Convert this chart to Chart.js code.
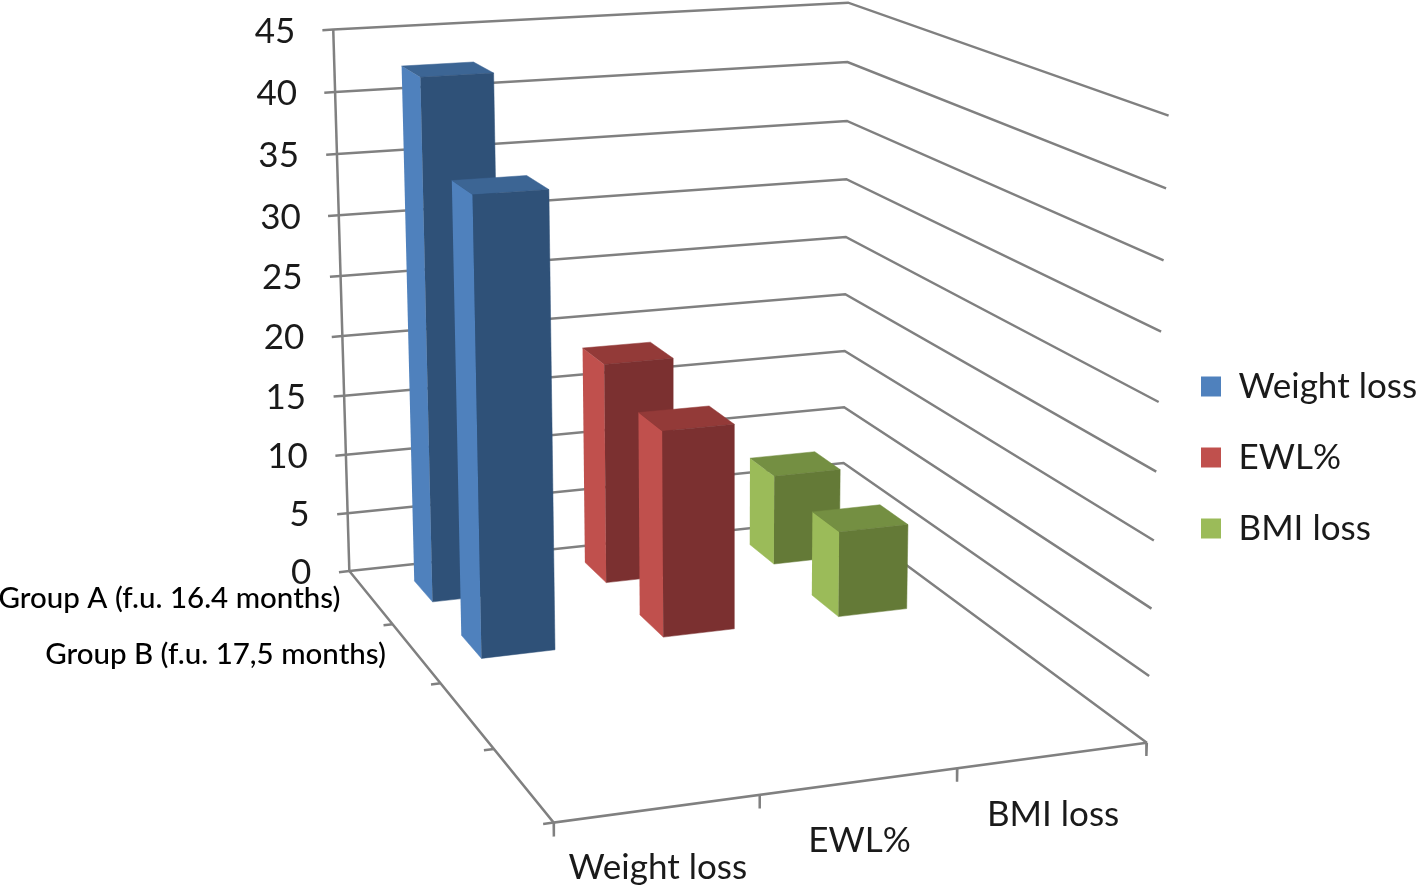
<!DOCTYPE html>
<html>
<head>
<meta charset="utf-8">
<title>Weight loss by group</title>
<script src="https://cdn.jsdelivr.net/npm/chart.js@4"></script>
<style>
    html, body { margin: 0; padding: 0; background: #fff; }
    canvas { display: block; }
</style>
</head>
<body>
<canvas id="lossChart" width="1418" height="891"></canvas>
<script>
const categories = ['Weight loss', 'EWL%', 'BMI loss'];
const groups = ['Group A (f.u. 16.4 months)', 'Group B (f.u. 17,5 months)'];
const groupA = [42.5, 18.4, 7.6];
const groupB = [36, 16.6, 7];
const valueTicks = [0, 5, 10, 15, 20, 25, 30, 35, 40, 45];

// Excel style box: 3 columns wide, 4 rows deep, 45 high
const depthRows = 4;
const maxValue = 45;

const seriesColors = [
    { side: '#4F81BD', top: '#3C6594', front: '#2F5178' },
    { side: '#C0504D', top: '#933A38', front: '#7B3030' },
    { side: '#9BBB59', top: '#748F42', front: '#647A37' }
];
const gridColor = '#808080';
const textColor = '#1a1a1a';
const fontFamily = 'Lato, "Open Sans", sans-serif';

// Camera calibration: box position -> canvas pixel
const cameraAnchors = [
    [0, 0, 0, 350, 572], [0, 0, 25, 341, 275], [0, 0, 45, 333, 30],
    [3, 0, 0, 842, 518], [3, 0, 20, 846, 295], [3, 0, 45, 848, 2],
    [3, 4, 0, 1147, 742], [3, 4, 20, 1157, 472], [3, 4, 45, 1168, 116],
    [0, 4, 0, 553, 822], [1, 4, 0, 761, 796], [2, 4, 0, 957, 768],
    [0, 1, 0, 392, 624], [0, 2, 0, 441, 684], [0, 3, 0, 493, 748]
];

function solveCamera(anchors) {
    const n = 11;
    const ata = Array.from({ length: n }, () => new Array(n + 1).fill(0));
    const addRow = (row, rhs) => {
        for (let i = 0; i < n; i++) {
            for (let j = 0; j < n; j++) ata[i][j] += row[i] * row[j];
            ata[i][n] += row[i] * rhs;
        }
    };
    anchors.forEach(([u0, v0, z0, x0, y0]) => {
        const u = u0 / 3, v = v0 / depthRows, z = z0 / maxValue, x = x0 / 1000, y = y0 / 1000;
        addRow([u, v, z, 1, 0, 0, 0, 0, -u * x, -v * x, -z * x], x);
        addRow([0, 0, 0, 0, u, v, z, 1, -u * y, -v * y, -z * y], y);
    });
    for (let c = 0; c < n; c++) {
        let best = c;
        for (let r = c + 1; r < n; r++) if (Math.abs(ata[r][c]) > Math.abs(ata[best][c])) best = r;
        [ata[c], ata[best]] = [ata[best], ata[c]];
        for (let r = 0; r < n; r++) {
            if (r === c) continue;
            const f = ata[r][c] / ata[c][c];
            for (let k = c; k <= n; k++) ata[r][k] -= f * ata[c][k];
        }
    }
    return ata.map((row, i) => row[n] / row[i]);
}

const cam = solveCamera(cameraAnchors);

function project(u0, v0, z0) {
    const u = u0 / 3, v = v0 / depthRows, z = z0 / maxValue;
    const w = cam[8] * u + cam[9] * v + cam[10] * z + 1;
    return {
        x: 1000 * (cam[0] * u + cam[1] * v + cam[2] * z + cam[3]) / w,
        y: 1000 * (cam[4] * u + cam[5] * v + cam[6] * z + cam[7]) / w
    };
}

function lineSet(points) {
    return {
        data: points.map(p => project(p[0], p[1], p[2])),
        showLine: true,
        borderColor: gridColor,
        borderWidth: 2.5,
        pointRadius: 0,
        fill: false
    };
}

function faceSet(points, color) {
    return {
        data: points.map(p => project(p[0], p[1], p[2])),
        showLine: true,
        borderColor: color,
        borderWidth: 0.5,
        backgroundColor: color,
        pointRadius: 0,
        fill: 'shape'
    };
}

// painted back to front
const layers = [];

valueTicks.forEach(value => {
    layers.push(lineSet([[-0.06, 0, value], [0, 0, value], [3, 0, value], [3, depthRows, value]]));
});
layers.push(lineSet([[0, 0, 0], [0, 0, maxValue]]));
layers.push(lineSet([[0, 0, 0], [0, depthRows, 0], [3, depthRows, 0]]));
for (let r = 1; r <= depthRows; r++) layers.push(lineSet([[-0.05, r, 0], [0, r, 0]]));
for (let c = 0; c <= categories.length; c++) layers.push(lineSet([[c, depthRows, 0], [c, depthRows, -1]]));

[groupA, groupB].forEach((values, row) => {
    values.forEach((value, col) => {
        const u0 = col + 0.3, u1 = col + 0.7, v0 = row + 0.3, v1 = row + 0.7;
        const colors = seriesColors[col];
        layers.push(faceSet([[u0, v0, 0], [u0, v1, 0], [u0, v1, value], [u0, v0, value]], colors.side));
        layers.push(faceSet([[u0, v0, value], [u1, v0, value], [u1, v1, value], [u0, v1, value]], colors.top));
        layers.push(faceSet([[u0, v1, 0], [u1, v1, 0], [u1, v1, value], [u0, v1, value]], colors.front));
    });
});

const boxLabels = {
    id: 'boxLabels',
    afterLayout(chart) {
        // legend sits in the right margin, outside the box
        const legend = chart.legend;
        const gap = legend.options.labels.padding;
        legend.left = 1201 - gap;
        legend.top = 369 - gap;
        legend.right = 1418;
        legend.bottom = 891;
    },
    afterDraw(chart) {
        const ctx = chart.ctx;
        const sx = chart.scales.x, sy = chart.scales.y;
        const at = (u, v, z) => {
            const p = project(u, v, z);
            return { x: sx.getPixelForValue(p.x), y: sy.getPixelForValue(p.y) };
        };
        ctx.save();
        ctx.fillStyle = textColor;
        ctx.textBaseline = 'middle';

        ctx.font = '35px ' + fontFamily;
        ctx.textAlign = 'right';
        valueTicks.forEach(value => {
            const p = at(0, 0, value);
            ctx.fillText(String(value), p.x - 38, p.y + 2);
        });

        ctx.textAlign = 'center';
        categories.forEach((name, i) => {
            const p = at(i + 0.5, depthRows, 0);
            ctx.fillText(name, p.x, p.y + 59);
        });

        ctx.font = '500 29.5px ' + fontFamily;
        ctx.fillStyle = '#000';
        ctx.textAlign = 'right';
        groups.forEach((name, i) => {
            const p = at(0, i + 0.5, 0);
            ctx.fillText(name, p.x - 30, p.y + 1);
        });
        ctx.restore();
    }
};

new Chart(document.getElementById('lossChart').getContext('2d'), {
    type: 'scatter',
    data: { datasets: layers.reverse() },
    plugins: [boxLabels],
    options: {
        responsive: false,
        animation: false,
        events: [],
        layout: { padding: 0 },
        scales: {
            x: { type: 'linear', min: 0, max: 1418, display: false },
            y: { type: 'linear', min: 0, max: 891, reverse: true, display: false }
        },
        plugins: {
            tooltip: { enabled: false },
            legend: {
                position: 'chartArea',
                align: 'start',
                labels: {
                    boxWidth: 20,
                    boxHeight: 20,
                    padding: 36,
                    color: textColor,
                    font: { family: fontFamily, size: 35, lineHeight: 1 },
                    generateLabels: () => categories.map((text, i) => ({
                        text: text,
                        fillStyle: seriesColors[i].side,
                        strokeStyle: seriesColors[i].side,
                        lineWidth: 0,
                        fontColor: textColor,
                        hidden: false
                    }))
                }
            }
        }
    }
});
</script>
</body>
</html>
